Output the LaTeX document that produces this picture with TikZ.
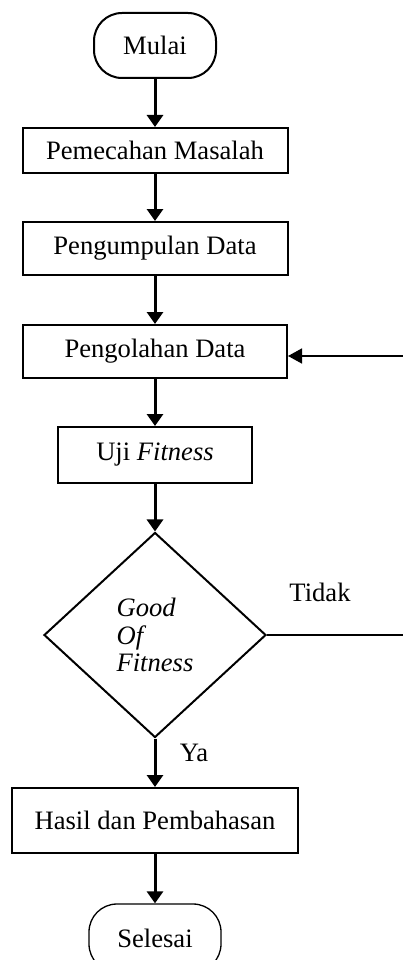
\documentclass[tikz,border=0pt]{standalone}
\usepackage{fontspec}
\setmainfont{Liberation Serif}
\usetikzlibrary{arrows.meta,shapes.geometric}
\tikzset{
  base/.style={draw=black, line width=2pt, font=\fontsize{26.6}{32}\selectfont, inner sep=0pt, anchor=center},
  boxnode/.style={base, rectangle},
  termnode/.style={base, rectangle, rounded corners=28pt},
  decnode/.style={base, diamond, align=left, font=\fontsize{26.6}{27.5}\selectfont\itshape},
  flow/.style={line width=3pt, -{Triangle[width=16pt,length=12pt]}},
  thin flow/.style={line width=1.5pt, -{Triangle[width=15pt,length=14pt]}},
  plain/.style={line width=1.5pt},
  lbl/.style={font=\fontsize{26.6}{32}\selectfont, inner sep=0pt}
}
\begin{document}
\begin{tikzpicture}[x=1pt,y=-1pt]
\useasboundingbox (0,0) rectangle (403,960);
\clip (0,0) rectangle (403,960);
\node[termnode, minimum width=122pt, minimum height=65pt] (mulai) at (155,45.5) {Mulai};
\node[boxnode, minimum width=265pt, minimum height=45pt] (pm) at (155,150.5) {Pemecahan Masalah};
\node[boxnode, minimum width=265pt, minimum height=53pt] (pd) at (155,248.5) {Pengumpulan Data};
\node[boxnode, minimum width=264pt, minimum height=53pt] (po) at (155,351.5) {Pengolahan Data};
\node[boxnode, minimum width=194pt, minimum height=56pt] (uji) at (155,455) {Uji \textit{Fitness}};
\node[decnode, minimum width=222pt, minimum height=205pt] (gof) at (155,635) {Good\\Of\\Fitness};
\node[boxnode, minimum width=286pt, minimum height=65pt] (hasil) at (155,820.5) {Hasil dan Pembahasan};
\node[termnode, line width=1.3pt, minimum width=132pt, minimum height=68pt] (selesai) at (155,938) {Selesai};
\node[lbl] (tidak) at (320,592) {Tidak};
\node[lbl] (ya) at (194,753) {Ya};
\coordinate (r1) at (403,635);
\coordinate (r2) at (403,356);
\draw[flow] (mulai) -- (pm);
\draw[flow] (pm) -- (pd);
\draw[flow] (pd) -- (po);
\draw[flow] (po) -- (uji);
\draw[flow] (uji) -- (gof);
\draw[flow] (gof) -- (hasil);
\draw[flow] (hasil) -- (selesai);
\draw[plain] (gof.east) -- (r1);
\draw[thin flow] (r2) -- (r2 -| po.east);
\end{tikzpicture}
\end{document}
